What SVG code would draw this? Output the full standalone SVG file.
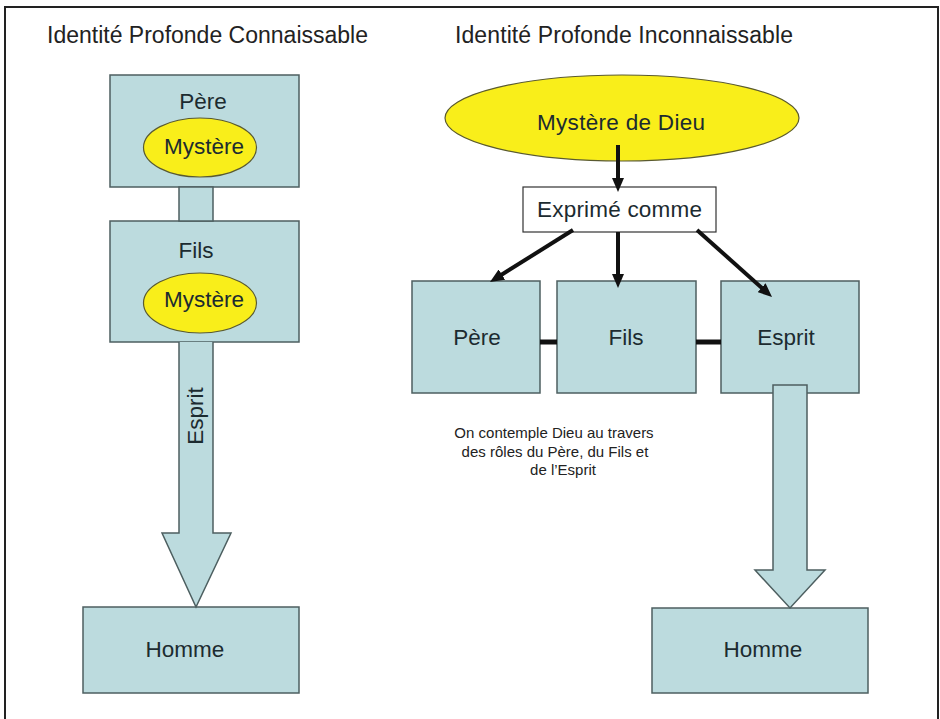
<svg xmlns="http://www.w3.org/2000/svg" width="940" height="719" viewBox="0 0 940 719">
  <style>
    text { font-family: "Liberation Sans", Arial, sans-serif; }
    .title { font-size: 23px; fill: #222; }
    .lbl { font-size: 22.5px; fill: #1c2b30; text-anchor: middle; }
    .cap { font-size: 15px; fill: #222; text-anchor: middle; }
    .box { fill: #bcdbde; stroke: #4d5f60; stroke-width: 1.5; }
    .oval { fill: #f9ee1a; stroke: #5a5a30; stroke-width: 1.2; }
    .plain { fill: #ffffff; stroke: #333; stroke-width: 1.2; }
    .link { stroke: #111; stroke-width: 4; fill: none; }
    .bar { stroke: #111; stroke-width: 5; }
  </style>
  <defs>
    <marker id="head" viewBox="0 0 14 12" refX="5" refY="6" markerWidth="14" markerHeight="12" markerUnits="userSpaceOnUse" orient="auto">
      <path d="M0,0 L14,6 L0,12 z" fill="#111"/>
    </marker>
  </defs>

  <rect width="940" height="719" fill="#ffffff"/>
  <!-- frame -->
  <path d="M5,719 V7 H938 V719" fill="none" stroke="#222" stroke-width="2"/>

  <!-- headings -->
  <text class="title" x="47" y="43" textLength="321">Identité Profonde Connaissable</text>
  <text class="title" x="455" y="43" textLength="338">Identité Profonde Inconnaissable</text>

  <!-- left column -->
  <g id="pere-left">
    <rect class="box" x="110" y="75" width="189" height="112"/>
    <text class="lbl" x="203" y="109">Père</text>
    <ellipse class="oval" cx="200" cy="147.5" rx="56.5" ry="29.5"/>
    <text class="lbl" x="204" y="154">Mystère</text>
  </g>
  <g id="fils-left">
    <rect class="box" x="110" y="221" width="189" height="121"/>
    <text class="lbl" x="196" y="258">Fils</text>
    <ellipse class="oval" cx="200" cy="303" rx="56.5" ry="30"/>
    <text class="lbl" x="204" y="307">Mystère</text>
  </g>
  <g id="homme-left">
    <rect class="box" x="83" y="607" width="216" height="86"/>
    <text class="lbl" x="185" y="657">Homme</text>
  </g>

  <!-- right column -->
  <g id="mystere-dieu">
    <ellipse class="oval" cx="622" cy="118" rx="177" ry="43"/>
    <text class="lbl" x="621" y="130" textLength="168">Mystère de Dieu</text>
  </g>
  <g id="exprime">
    <rect class="plain" x="523" y="187" width="193" height="45"/>
    <text class="lbl" x="619.5" y="217" textLength="165">Exprimé comme</text>
  </g>
  <g id="pere-right">
    <rect class="box" x="412" y="281" width="128" height="112"/>
    <text class="lbl" x="477" y="345">Père</text>
  </g>
  <g id="fils-right">
    <rect class="box" x="557" y="281" width="139" height="112"/>
    <text class="lbl" x="626" y="345">Fils</text>
  </g>
  <g id="esprit-right">
    <rect class="box" x="721" y="281" width="138" height="112"/>
    <text class="lbl" x="786" y="345">Esprit</text>
  </g>
  <g id="homme-right">
    <rect class="box" x="652" y="608" width="216" height="85"/>
    <text class="lbl" x="763" y="657">Homme</text>
  </g>

  <g id="caption">
    <text class="cap" x="554" y="438">On contemple Dieu au travers</text>
    <text class="cap" x="555" y="457">des rôles du Père, du Fils et</text>
    <text class="cap" x="563" y="475">de l’Esprit</text>
  </g>

  <!-- connectors -->
  <g id="connectors">
    <!-- left: block links -->
    <rect class="box" x="179" y="187" width="34" height="34"/>
    <path class="box" d="M179,342 V533 H162 L196,607 L231,533 H213 V342"/>
    <text class="lbl" transform="translate(203,416) rotate(-90)">Esprit</text>

    <!-- right: arrows out of the mystery -->
    <line class="link" x1="618" y1="145" x2="618" y2="183" marker-end="url(#head)"/>
    <line class="link" x1="573" y1="230" x2="497.6" y2="277.2" marker-end="url(#head)"/>
    <line class="link" x1="618" y1="232" x2="618" y2="279" marker-end="url(#head)"/>
    <line class="link" x1="697" y1="230" x2="765.3" y2="291" marker-end="url(#head)"/>

    <!-- bars joining the three roles -->
    <line class="bar" x1="540" y1="342" x2="557" y2="342"/>
    <line class="bar" x1="696" y1="342" x2="721" y2="342"/>

    <!-- right: block arrow to man -->
    <path class="box" d="M773,385 V570 H755 L790,608 L825,570 H807 V385 Z"/>
  </g>
</svg>
